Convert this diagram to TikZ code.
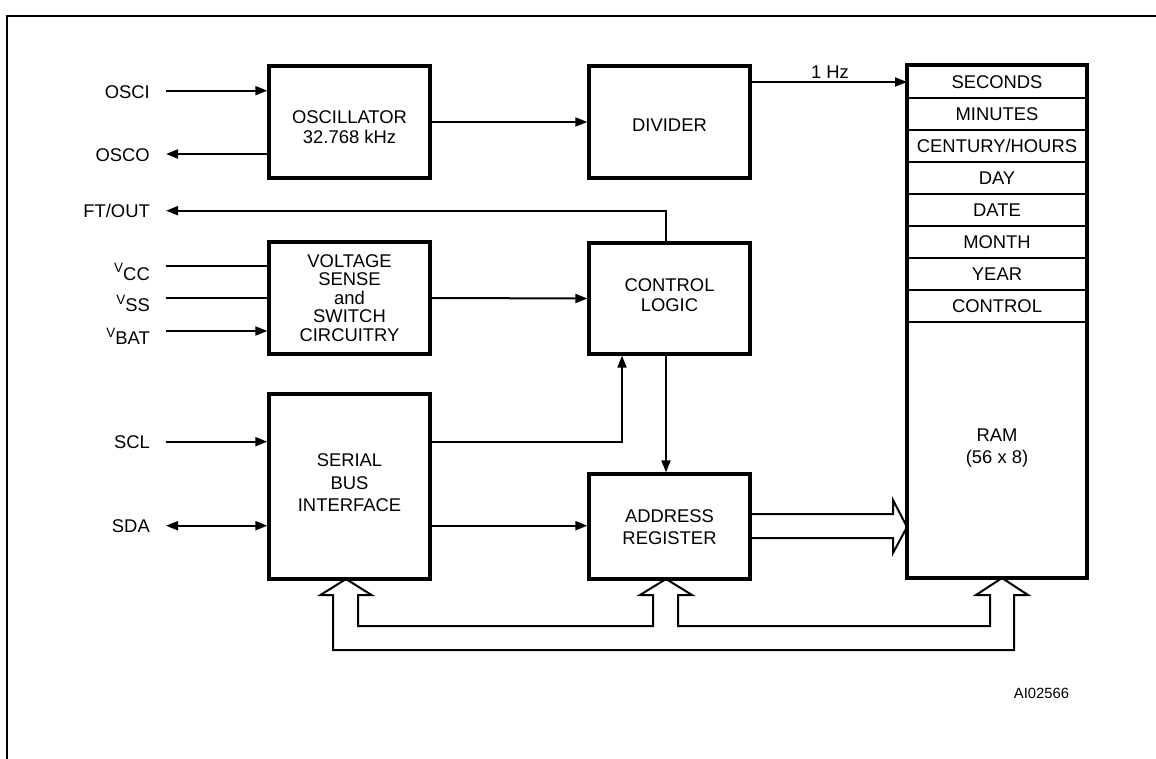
\documentclass[tikz,border=0pt]{standalone}
\usepackage{fontspec}
\setmainfont{Liberation Sans}
\usetikzlibrary{arrows.meta}
\newcommand\vlab[1]{\raisebox{7.5pt}{\fontsize{13.5}{13.5}\selectfont V}#1}
\begin{document}
\begin{tikzpicture}[x=1pt,y=-1pt,
  every node/.style={font=\fontsize{18.4}{20}\selectfont, inner sep=0pt},
  blk/.style={draw, line width=3.3pt, minimum width=161pt},
  txt/.style={align=center},
  lbl/.style={anchor=east},
  vlb/.style={anchor=base east},
  row/.style={draw, line width=2pt, minimum width=178pt, minimum height=32pt},
  ln/.style={line width=2pt},
  arr/.style={line width=2pt, -{Triangle[length=12pt,width=9pt]}},
  arrb/.style={line width=2pt, {Triangle[length=12pt,width=9pt]}-{Triangle[length=12pt,width=9pt]}},
  bus/.style={line width=2pt, line join=miter},
  frame/.style={line width=2.5pt}
]
\useasboundingbox (0,0) rectangle (1156,759);
\draw[frame] (7,759) -- (7,16) -- (1156,16);

% blocks
\node[blk, minimum height=112pt] (osc) at (349.5,122) {};
\node[blk, minimum height=112pt] (div) at (669.5,122) {};
\node[blk, minimum height=112pt] (volt) at (349.5,298) {};
\node[blk, minimum height=111pt] (ctrl) at (669.5,298.5) {};
\node[blk, minimum height=185pt] (sbi) at (349.5,486.5) {};
\node[blk, minimum height=105pt] (addr) at (669.5,526.5) {};

\node[txt, font=\fontsize{18.4}{20.5}\selectfont] (oscT) at (349.5,127) {OSCILLATOR\\32.768 kHz};
\node (divT) at (669.5,125) {DIVIDER};
\node[txt, font=\fontsize{18.4}{18.5}\selectfont] (voltT) at (349.5,298) {VOLTAGE\\SENSE\\and\\SWITCH\\CIRCUITRY};
\node[txt, font=\fontsize{18.4}{20}\selectfont] (ctrlT) at (669.5,295) {CONTROL\\LOGIC};
\node[txt, font=\fontsize{18.4}{22.5}\selectfont] (sbiT) at (349.5,483) {SERIAL\\BUS\\INTERFACE};
\node[txt, font=\fontsize{18.4}{21.5}\selectfont] (addrT) at (669.5,527) {ADDRESS\\REGISTER};

% register file
\node[row] (sec) at (997,82) {SECONDS};
\node[row] (min) at (997,114) {MINUTES};
\node[row] (cent) at (997,146) {CENTURY/HOURS};
\node[row] (day) at (997,178) {DAY};
\node[row] (date) at (997,210) {DATE};
\node[row] (mon) at (997,242) {MONTH};
\node[row] (year) at (997,274) {YEAR};
\node[row] (ctl) at (997,306) {CONTROL};
\node[row, minimum height=255pt] (ram) at (997,449.5) {};
\node[txt, font=\fontsize{18.4}{22}\selectfont] (ramT) at (997,448) {RAM\\(56 x 8)};
\draw[line width=3.3pt] (sec.north west) rectangle (ram.south east);

% pin labels
\node[lbl] (osciL) at (150,92) {OSCI};
\node[lbl] (oscoL) at (150,155) {OSCO};
\node[lbl] (ftL) at (150,211) {FT/OUT};
\node[vlb] (vccL) at (150,280) {\vlab{CC}};
\node[vlb] (vssL) at (150,312) {\vlab{SS}};
\node[vlb] (vbatL) at (150,344.5) {\vlab{BAT}};
\node[lbl] (sclL) at (150,442) {SCL};
\node[lbl] (sdaL) at (150,526) {SDA};

\coordinate (pOsci) at (166,90.7);
\coordinate (pOsco) at (166,154);
\coordinate (pFt) at (166,210.7);
\coordinate (pVcc) at (166,266);
\coordinate (pVss) at (166,298.3);
\coordinate (pVbat) at (166,331);
\coordinate (pScl) at (166,441.7);
\coordinate (pSda) at (166,525.7);
\coordinate (xc) at (666,0);
\coordinate (xs) at (622,0);

% connectors
\draw[arr] (pOsci) -- (pOsci -| osc.west);
\draw[arr] (pOsco -| osc.west) -- (pOsco);
\draw[arr] (osc.east) -- (div.west);
\draw[arr] (sec.west -| div.east) -- (sec.west);
\node (hz) at (830,72) {1 Hz};
\draw[arr] (ctrl.north -| xc) |- (pFt);
\draw[ln] (pVcc) -- (pVcc -| volt.west);
\draw[ln] (pVss) -- (pVss -| volt.west);
\draw[arr] (pVbat) -- (pVbat -| volt.west);
\draw[arr] (volt.east) -- (ctrl.west);
\draw[arr] (pScl) -- (pScl -| sbi.west);
\draw[arrb] (pSda) -- (pSda -| sbi.west);
\draw[arr] (pScl -| sbi.east) -| (ctrl.south -| xs);
\draw[arr] (pSda -| sbi.east) -- (pSda -| addr.west);
\draw[arr] (ctrl.south -| xc) -- (addr.north -| xc);

% wide arrow address -> RAM
\draw[bus] (addr.east |- 0,514) -- (893,514) -- (893,500) -- (ram.west |- 0,527) -- (893,553) -- (893,538) -- (addr.east |- 0,538);

% internal bus
\draw[bus] (1014,595) -- (1028,595) -- (1002,578) -- (976,595) -- (990,595) -- (990,626) -- (678,626) -- (678,595) -- (692,595) -- (666,579) -- (640,595) -- (653,595) -- (653,626) -- (358,626) -- (358,595) -- (371.5,595) -- (346,579) -- (320.5,595) -- (333,595) -- (333,650) -- (1014,650) -- cycle;

\node[font=\fontsize{14.8}{16}\selectfont] (ref) at (1041.5,693) {AI02566};
\end{tikzpicture}
\end{document}
